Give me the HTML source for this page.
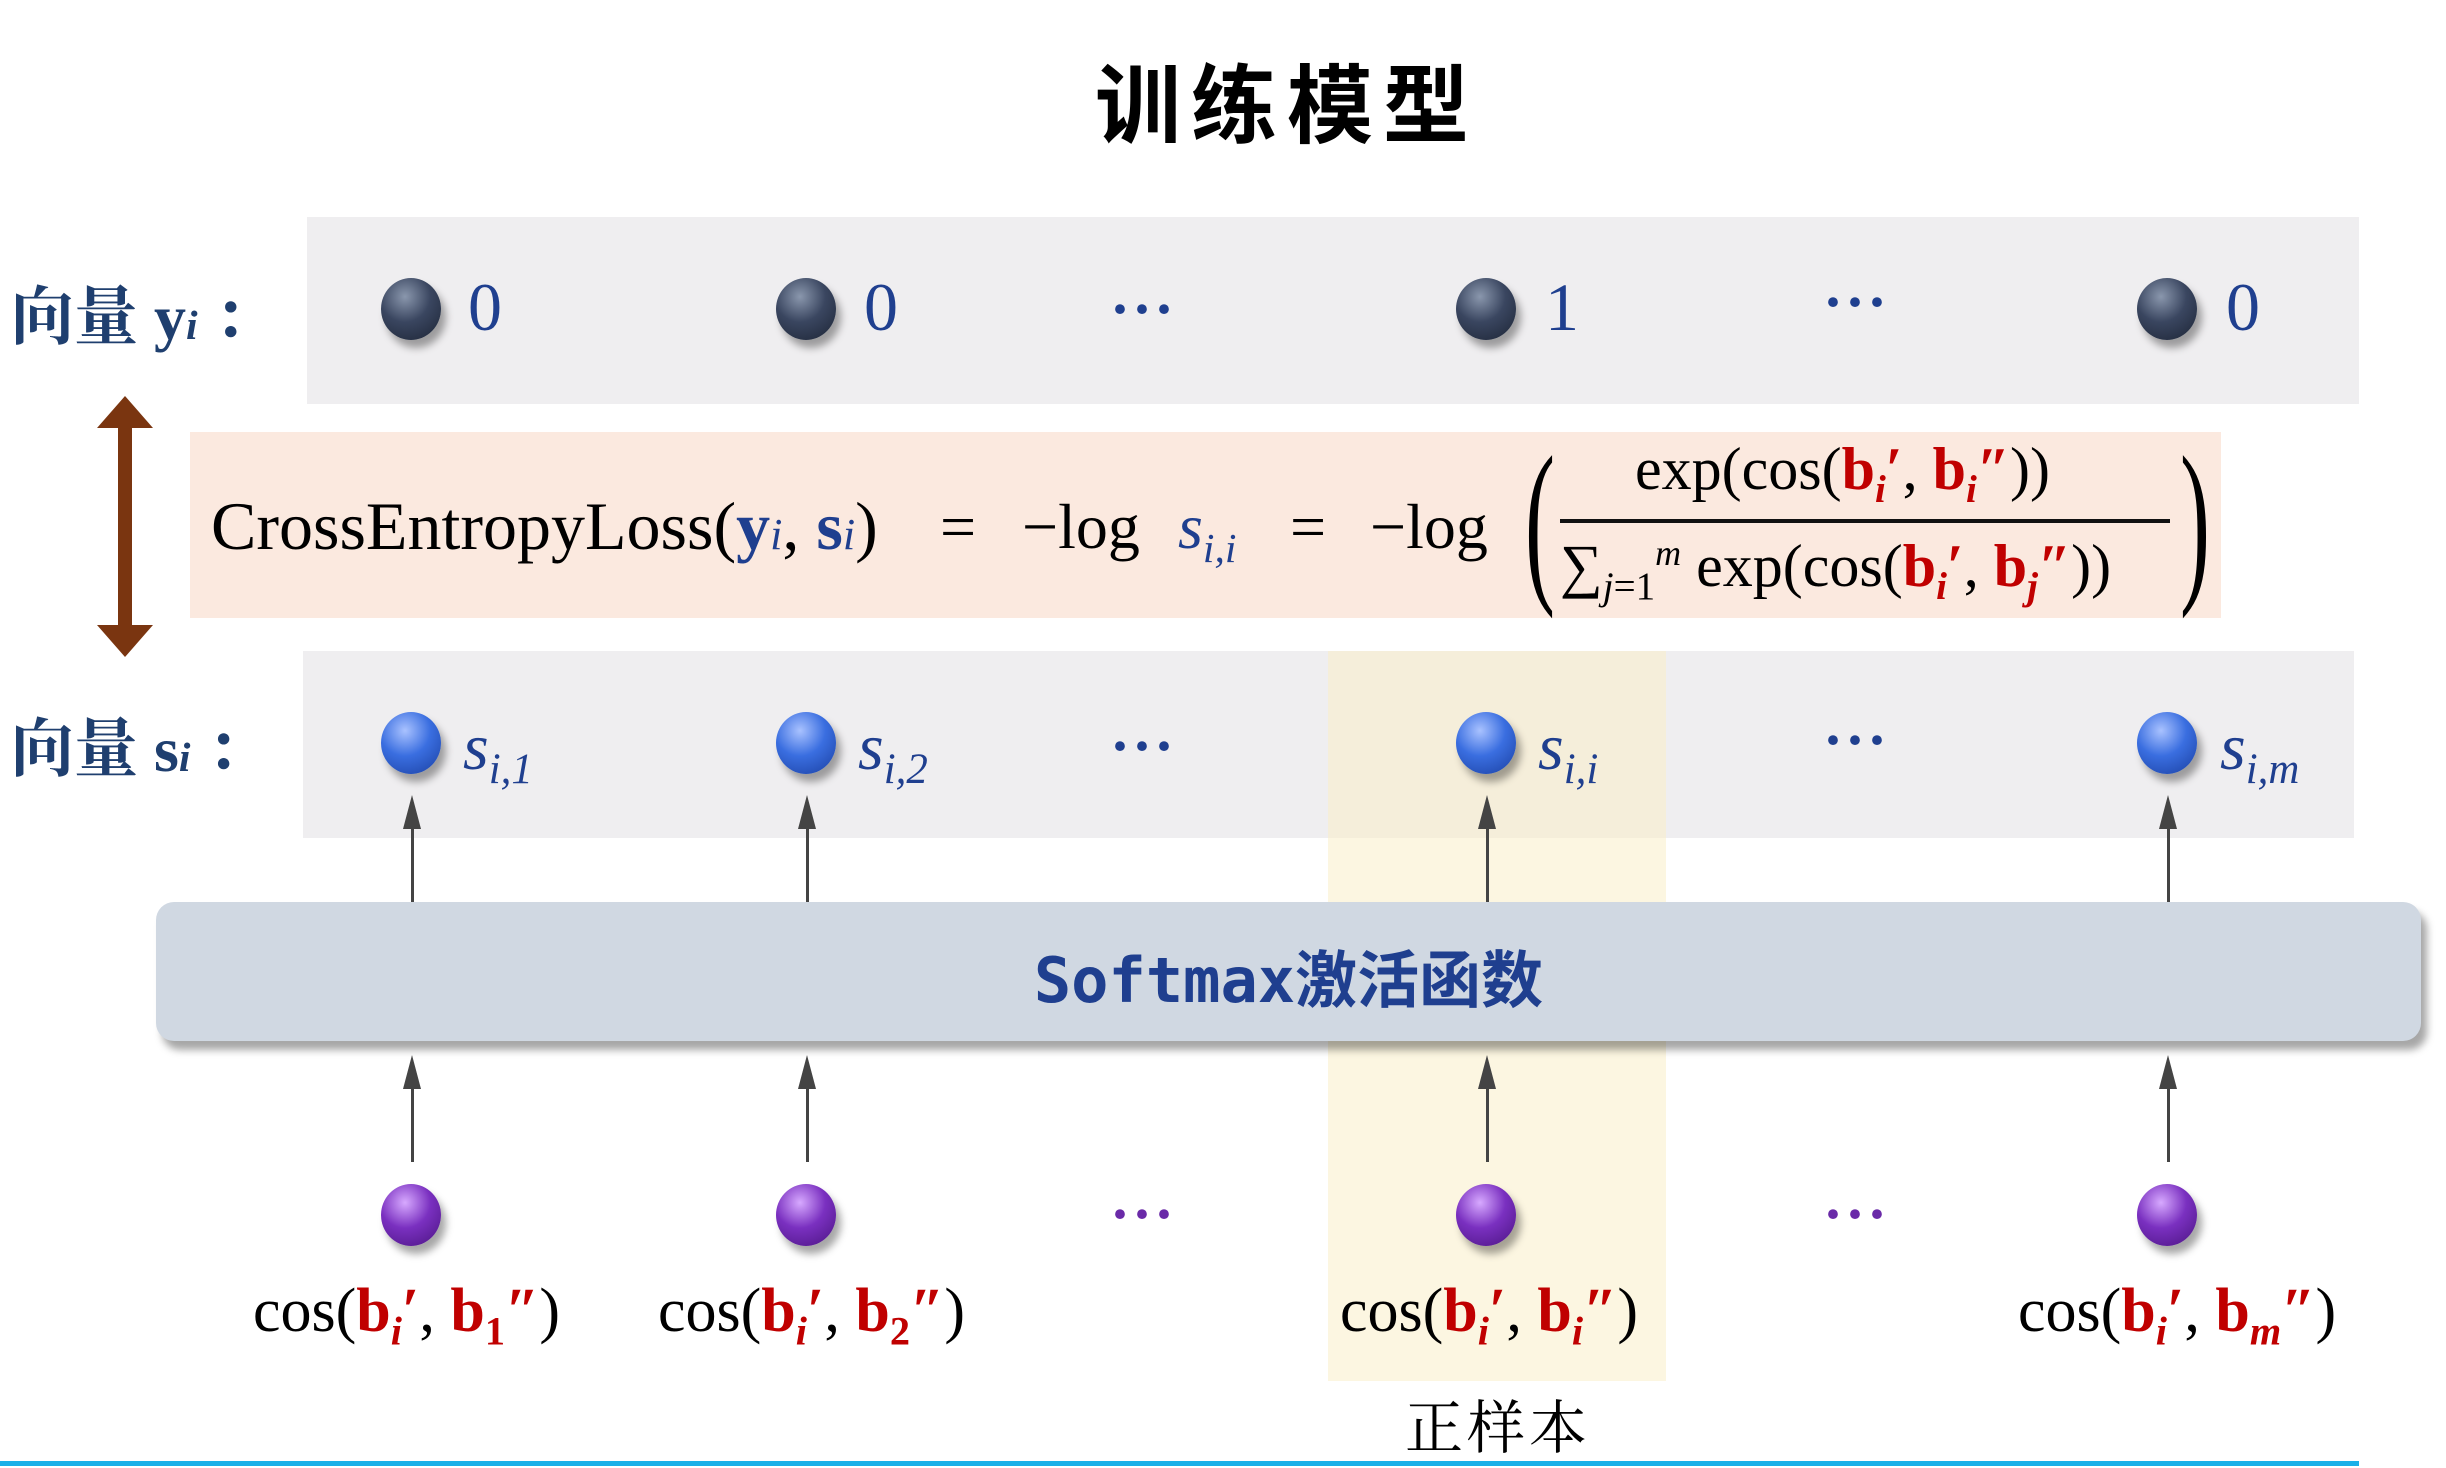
<!DOCTYPE html>
<html><head><meta charset="utf-8"><style>
body{margin:0;width:2446px;height:1468px;background:#fff;position:relative;overflow:hidden;font-family:"Liberation Serif","Noto Serif CJK SC",serif}
.a{position:absolute;white-space:nowrap}
.ball{position:absolute;width:60px;height:62px;border-radius:50%;box-shadow:5px 8px 8px rgba(0,0,0,.35)}
.dk{background:radial-gradient(circle at 40% 30%,#8a97ad,#3a4660 45%,#1c2434)}
.bl{background:radial-gradient(circle at 40% 30%,#a9c2ff,#3a6ee0 45%,#1a3fa0)}
.pu{background:radial-gradient(circle at 40% 30%,#d7a9ff,#7a30c0 45%,#4a1480)}
.num{position:absolute;font-size:68px;color:#1f3f8f;font-family:"Liberation Serif",serif}
.dots{position:absolute;font-size:60px;color:#1f3f8f;letter-spacing:2px;font-weight:bold}
.lab{position:absolute;font-size:64px;color:#1f3f6f;font-family:"Liberation Serif","Noto Serif CJK SC",serif;font-weight:bold}
.cos{position:absolute;font-size:62px;color:#000;white-space:nowrap}
.r{color:#c00000;font-weight:bold}
.s{font-style:italic;color:#1f3f8f;font-size:66px}
sub{font-size:0.65em}
.line{position:absolute;width:3px;background:#444}
.ah{position:absolute;width:0;height:0;border-left:9px solid transparent;border-right:9px solid transparent;border-bottom:34px solid #444}
.f{position:absolute;font-size:64px;white-space:nowrap;top:490px}
</style></head><body>
<div class="a" style="left:0;top:36px;width:2574px;text-align:center;font-size:86px;font-weight:bold;font-family:'Noto Sans CJK SC',sans-serif;letter-spacing:10px">训练模型</div>

<div class="a" style="left:307px;top:217px;width:2052px;height:187px;background:#efeef0"></div>
<div class="a" style="left:303px;top:651px;width:2051px;height:187px;background:#efeef0"></div>
<div class="a" style="left:1328px;top:651px;width:338px;height:730px;background:rgba(250,238,200,0.55)"></div>
<div class="a" style="left:190px;top:432px;width:2031px;height:186px;background:#fbe9df"></div>

<div class="lab" style="left:10px;top:266px">向量 y<i style="font-size:.65em">i</i> ：</div>
<div class="lab" style="left:10px;top:698px">向量 s<i style="font-size:.65em">i</i> ：</div>

<div class="ball dk" style="left:381px;top:278px"></div><div class="num" style="left:468px;top:268px">0</div>
<div class="ball dk" style="left:776px;top:278px"></div><div class="num" style="left:864px;top:268px">0</div>
<div class="dots" style="left:1110px;top:275px">···</div>
<div class="ball dk" style="left:1456px;top:278px"></div><div class="num" style="left:1545px;top:268px">1</div>
<div class="dots" style="left:1823px;top:268px">···</div>
<div class="ball dk" style="left:2137px;top:278px"></div><div class="num" style="left:2226px;top:268px">0</div>

<div class="a" style="left:118px;top:425px;width:14px;height:210px;background:#7a3510"></div>
<div class="a" style="left:97px;top:396px;width:0;height:0;border-left:28px solid transparent;border-right:28px solid transparent;border-bottom:32px solid #7a3510"></div>
<div class="a" style="left:97px;top:625px;width:0;height:0;border-left:28px solid transparent;border-right:28px solid transparent;border-top:32px solid #7a3510"></div>

<div class="f" style="left:211px;font-size:68px;top:487px">CrossEntropyLoss(<b style="color:#1f3f8f">y</b><i style="color:#1f3f8f;font-size:.65em">i</i>, <b style="color:#1f3f8f">s</b><i style="color:#1f3f8f;font-size:.65em">i</i>)</div>
<div class="f" style="left:940px">=</div>
<div class="f" style="left:1022px">−log</div>
<div class="f" style="left:1178px;color:#1f3f8f"><i>s<sub>i,i</sub></i></div>
<div class="f" style="left:1290px">=</div>
<div class="f" style="left:1370px">−log</div>
<div class="a" style="left:1525px;top:430px;font-size:180px;line-height:180px;transform:scaleX(.5);transform-origin:left">(</div>
<div class="a" style="left:2180px;top:430px;font-size:180px;line-height:180px;transform:scaleX(.5);transform-origin:left">)</div>
<div class="a" style="left:1635px;top:435px;font-size:60px">exp(cos(<span class="r">b</span><sub class="r"><i>i</i></sub><span class="r">′</span>, <span class="r">b</span><sub class="r"><i>i</i></sub><span class="r">″</span>))</div>
<div class="a" style="left:1560px;top:519px;width:610px;height:4px;background:#111"></div>
<div class="a" style="left:1560px;top:532px;font-size:60px">∑<sub><i>j</i>=1</sub><sup style="font-size:.6em"><i>m</i></sup> exp(cos(<span class="r">b</span><sub class="r"><i>i</i></sub><span class="r">′</span>, <span class="r">b</span><sub class="r"><i>j</i></sub><span class="r">″</span>))</div>

<div class="ball bl" style="left:381px;top:712px"></div><div class="s a" style="left:463px;top:710px">s<sub>i,1</sub></div>
<div class="ball bl" style="left:776px;top:712px"></div><div class="s a" style="left:858px;top:710px">s<sub>i,2</sub></div>
<div class="dots" style="left:1110px;top:712px">···</div>
<div class="ball bl" style="left:1456px;top:712px"></div><div class="s a" style="left:1538px;top:710px">s<sub>i,i</sub></div>
<div class="dots" style="left:1823px;top:706px">···</div>
<div class="ball bl" style="left:2137px;top:712px"></div><div class="s a" style="left:2220px;top:710px">s<sub>i,m</sub></div>

<div class="line" style="left:411px;top:820px;height:82px"></div><div class="ah" style="left:403px;top:795px"></div>
<div class="line" style="left:806px;top:820px;height:82px"></div><div class="ah" style="left:798px;top:795px"></div>
<div class="line" style="left:1486px;top:820px;height:82px"></div><div class="ah" style="left:1478px;top:795px"></div>
<div class="line" style="left:2167px;top:820px;height:82px"></div><div class="ah" style="left:2159px;top:795px"></div>

<div class="a" style="left:156px;top:902px;width:2265px;height:139px;background:#d0d8e2;border-radius:18px;box-shadow:6px 9px 8px rgba(0,0,0,.35)"></div>
<div class="a" style="left:156px;top:930px;width:2265px;text-align:center;font-size:62px;font-weight:bold;color:#1f3f8f;font-family:'DejaVu Sans Mono','Noto Sans CJK SC',monospace">Softmax激活函数</div>

<div class="line" style="left:411px;top:1080px;height:82px"></div><div class="ah" style="left:403px;top:1055px"></div>
<div class="line" style="left:806px;top:1080px;height:82px"></div><div class="ah" style="left:798px;top:1055px"></div>
<div class="line" style="left:1486px;top:1080px;height:82px"></div><div class="ah" style="left:1478px;top:1055px"></div>
<div class="line" style="left:2167px;top:1080px;height:82px"></div><div class="ah" style="left:2159px;top:1055px"></div>

<div class="ball pu" style="left:381px;top:1184px"></div>
<div class="ball pu" style="left:776px;top:1184px"></div>
<div class="dots" style="left:1110px;top:1180px;color:#6a2aa8">···</div>
<div class="ball pu" style="left:1456px;top:1184px"></div>
<div class="dots" style="left:1823px;top:1180px;color:#6a2aa8">···</div>
<div class="ball pu" style="left:2137px;top:1184px"></div>

<div class="cos" style="left:253px;top:1276px">cos(<span class="r">b</span><sub class="r"><i>i</i></sub><span class="r">′</span>, <span class="r">b</span><sub class="r">1</sub><span class="r">″</span>)</div>
<div class="cos" style="left:658px;top:1276px">cos(<span class="r">b</span><sub class="r"><i>i</i></sub><span class="r">′</span>, <span class="r">b</span><sub class="r">2</sub><span class="r">″</span>)</div>
<div class="cos" style="left:1340px;top:1276px">cos(<span class="r">b</span><sub class="r"><i>i</i></sub><span class="r">′</span>, <span class="r">b</span><sub class="r"><i>i</i></sub><span class="r">″</span>)</div>
<div class="cos" style="left:2018px;top:1276px">cos(<span class="r">b</span><sub class="r"><i>i</i></sub><span class="r">′</span>, <span class="r">b</span><sub class="r"><i>m</i></sub><span class="r">″</span>)</div>

<div class="a" style="left:1405px;top:1381px;font-size:58px;letter-spacing:4px">正样本</div>
<div class="a" style="left:0;top:1461px;width:2359px;height:5px;background:#1ab0e8"></div>
</body></html>
